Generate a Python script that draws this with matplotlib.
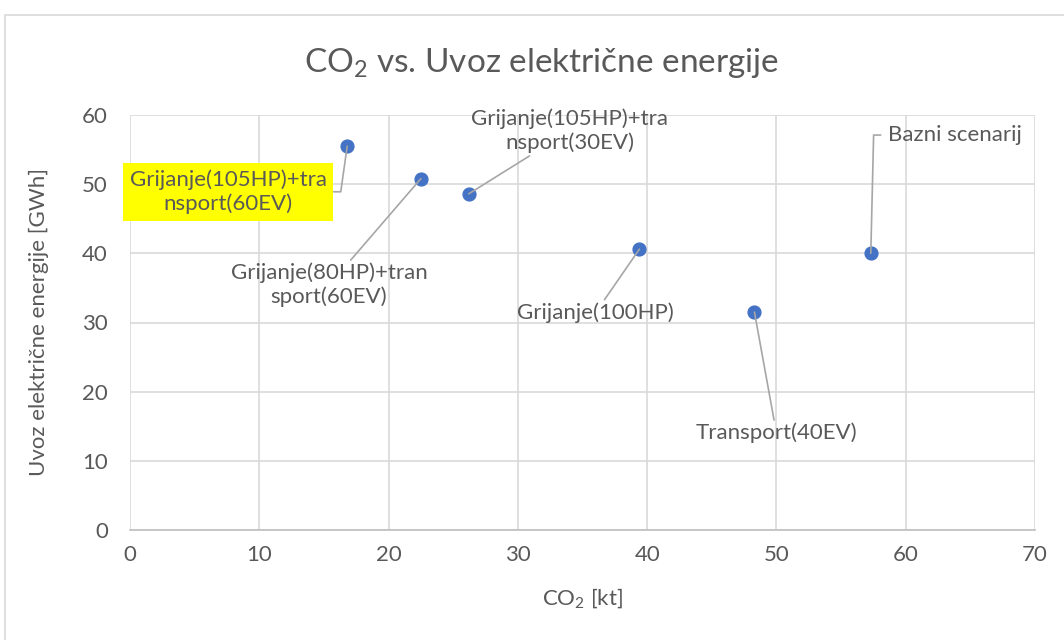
import matplotlib.pyplot as plt
from matplotlib.patches import Rectangle

plt.rcParams['font.family'] = ['Lato', 'DejaVu Sans']
plt.rcParams['mathtext.default'] = 'regular'

# podaci o scenarijima
scenariji = ['Grijanje(105HP)+tra\nnsport(60EV)', 'Grijanje(80HP)+tran\nsport(60EV)',
             'Grijanje(105HP)+tra\nnsport(30EV)', 'Grijanje(100HP)',
             'Transport(40EV)', 'Bazni scenarij']
co2 = [16.8, 22.5, 26.2, 39.4, 48.3, 57.3]
uvoz = [55.5, 50.8, 48.6, 40.6, 31.5, 40.0]

# polozaj oznaka (x, y) i poravnanje
oznake_pos = [(7.6, 48.9), (15.4, 35.4), (34.0, 57.7), (36.0, 31.4), (50.0, 14.0), (58.6, 57.1)]
oznake_ha = ['center', 'center', 'center', 'center', 'center', 'left']

boja_teksta = '#595959'
boja_linije = '#A6A6A6'

fig = plt.figure(figsize=(10.64, 6.4), dpi=100)
ax = fig.add_axes([130 / 1064, 1 - 530 / 640, 905 / 1064, 415 / 640])

# okvir grafikona
fig.patches.append(Rectangle((5 / 1064, -0.1), 1.2, 1.1 - 15 / 640, transform=fig.transFigure,
                             fill=False, edgecolor='#D9D9D9', linewidth=1.2))

ax.scatter(co2, uvoz, s=85, color='#4472C4', zorder=3)

for i, naziv in enumerate(scenariji):
    strelica = dict(arrowstyle='-', color=boja_linije, lw=1.2, shrinkA=0, shrinkB=0)
    okvir = None
    if i == 0:
        strelica['connectionstyle'] = 'arc,angleA=0,armA=14,angleB=90,armB=0,rad=0'
        strelica['relpos'] = (1, 0.5)
        okvir = dict(boxstyle='square,pad=0.3', facecolor='#FFFF00', edgecolor='none')
    elif i == 5:
        strelica['connectionstyle'] = 'arc,angleA=180,armA=14,angleB=90,armB=0,rad=0'
        strelica['relpos'] = (0, 0.5)
        strelica['patchA'] = None
        strelica['shrinkA'] = 5
    ax.annotate(naziv, xy=(co2[i], uvoz[i]), xytext=oznake_pos[i], textcoords='data',
                ha=oznake_ha[i], va='center', multialignment='center', fontsize=16,
                color=boja_teksta, bbox=okvir, zorder=4, arrowprops=strelica)

ax.set_xlim(0, 70)
ax.set_ylim(0, 60)
ax.set_xticks(range(0, 71, 10))
ax.set_yticks(range(0, 61, 10))
ax.grid(color='#D9D9D9', linewidth=1.2)
ax.set_axisbelow(True)
for s in ['top', 'right', 'left']:
    ax.spines[s].set_visible(False)
ax.spines['bottom'].set_color('#BFBFBF')
ax.spines['bottom'].set_linewidth(1.2)
ax.tick_params(length=0, labelsize=16, colors=boja_teksta)
ax.tick_params(axis='x', pad=11)
ax.tick_params(axis='y', pad=16)

ax.set_xlabel('CO$_2$ [kt]', fontsize=16, color=boja_teksta, labelpad=15)
ax.set_ylabel('Uvoz električne energije [GWh]', fontsize=16, color=boja_teksta, labelpad=24)
fig.text(542 / 1064, 1 - 63 / 640, 'CO$_2$ vs. Uvoz električne energije', ha='center', va='center',
         fontsize=24, color=boja_teksta)

fig.savefig('out.png', dpi=100)
